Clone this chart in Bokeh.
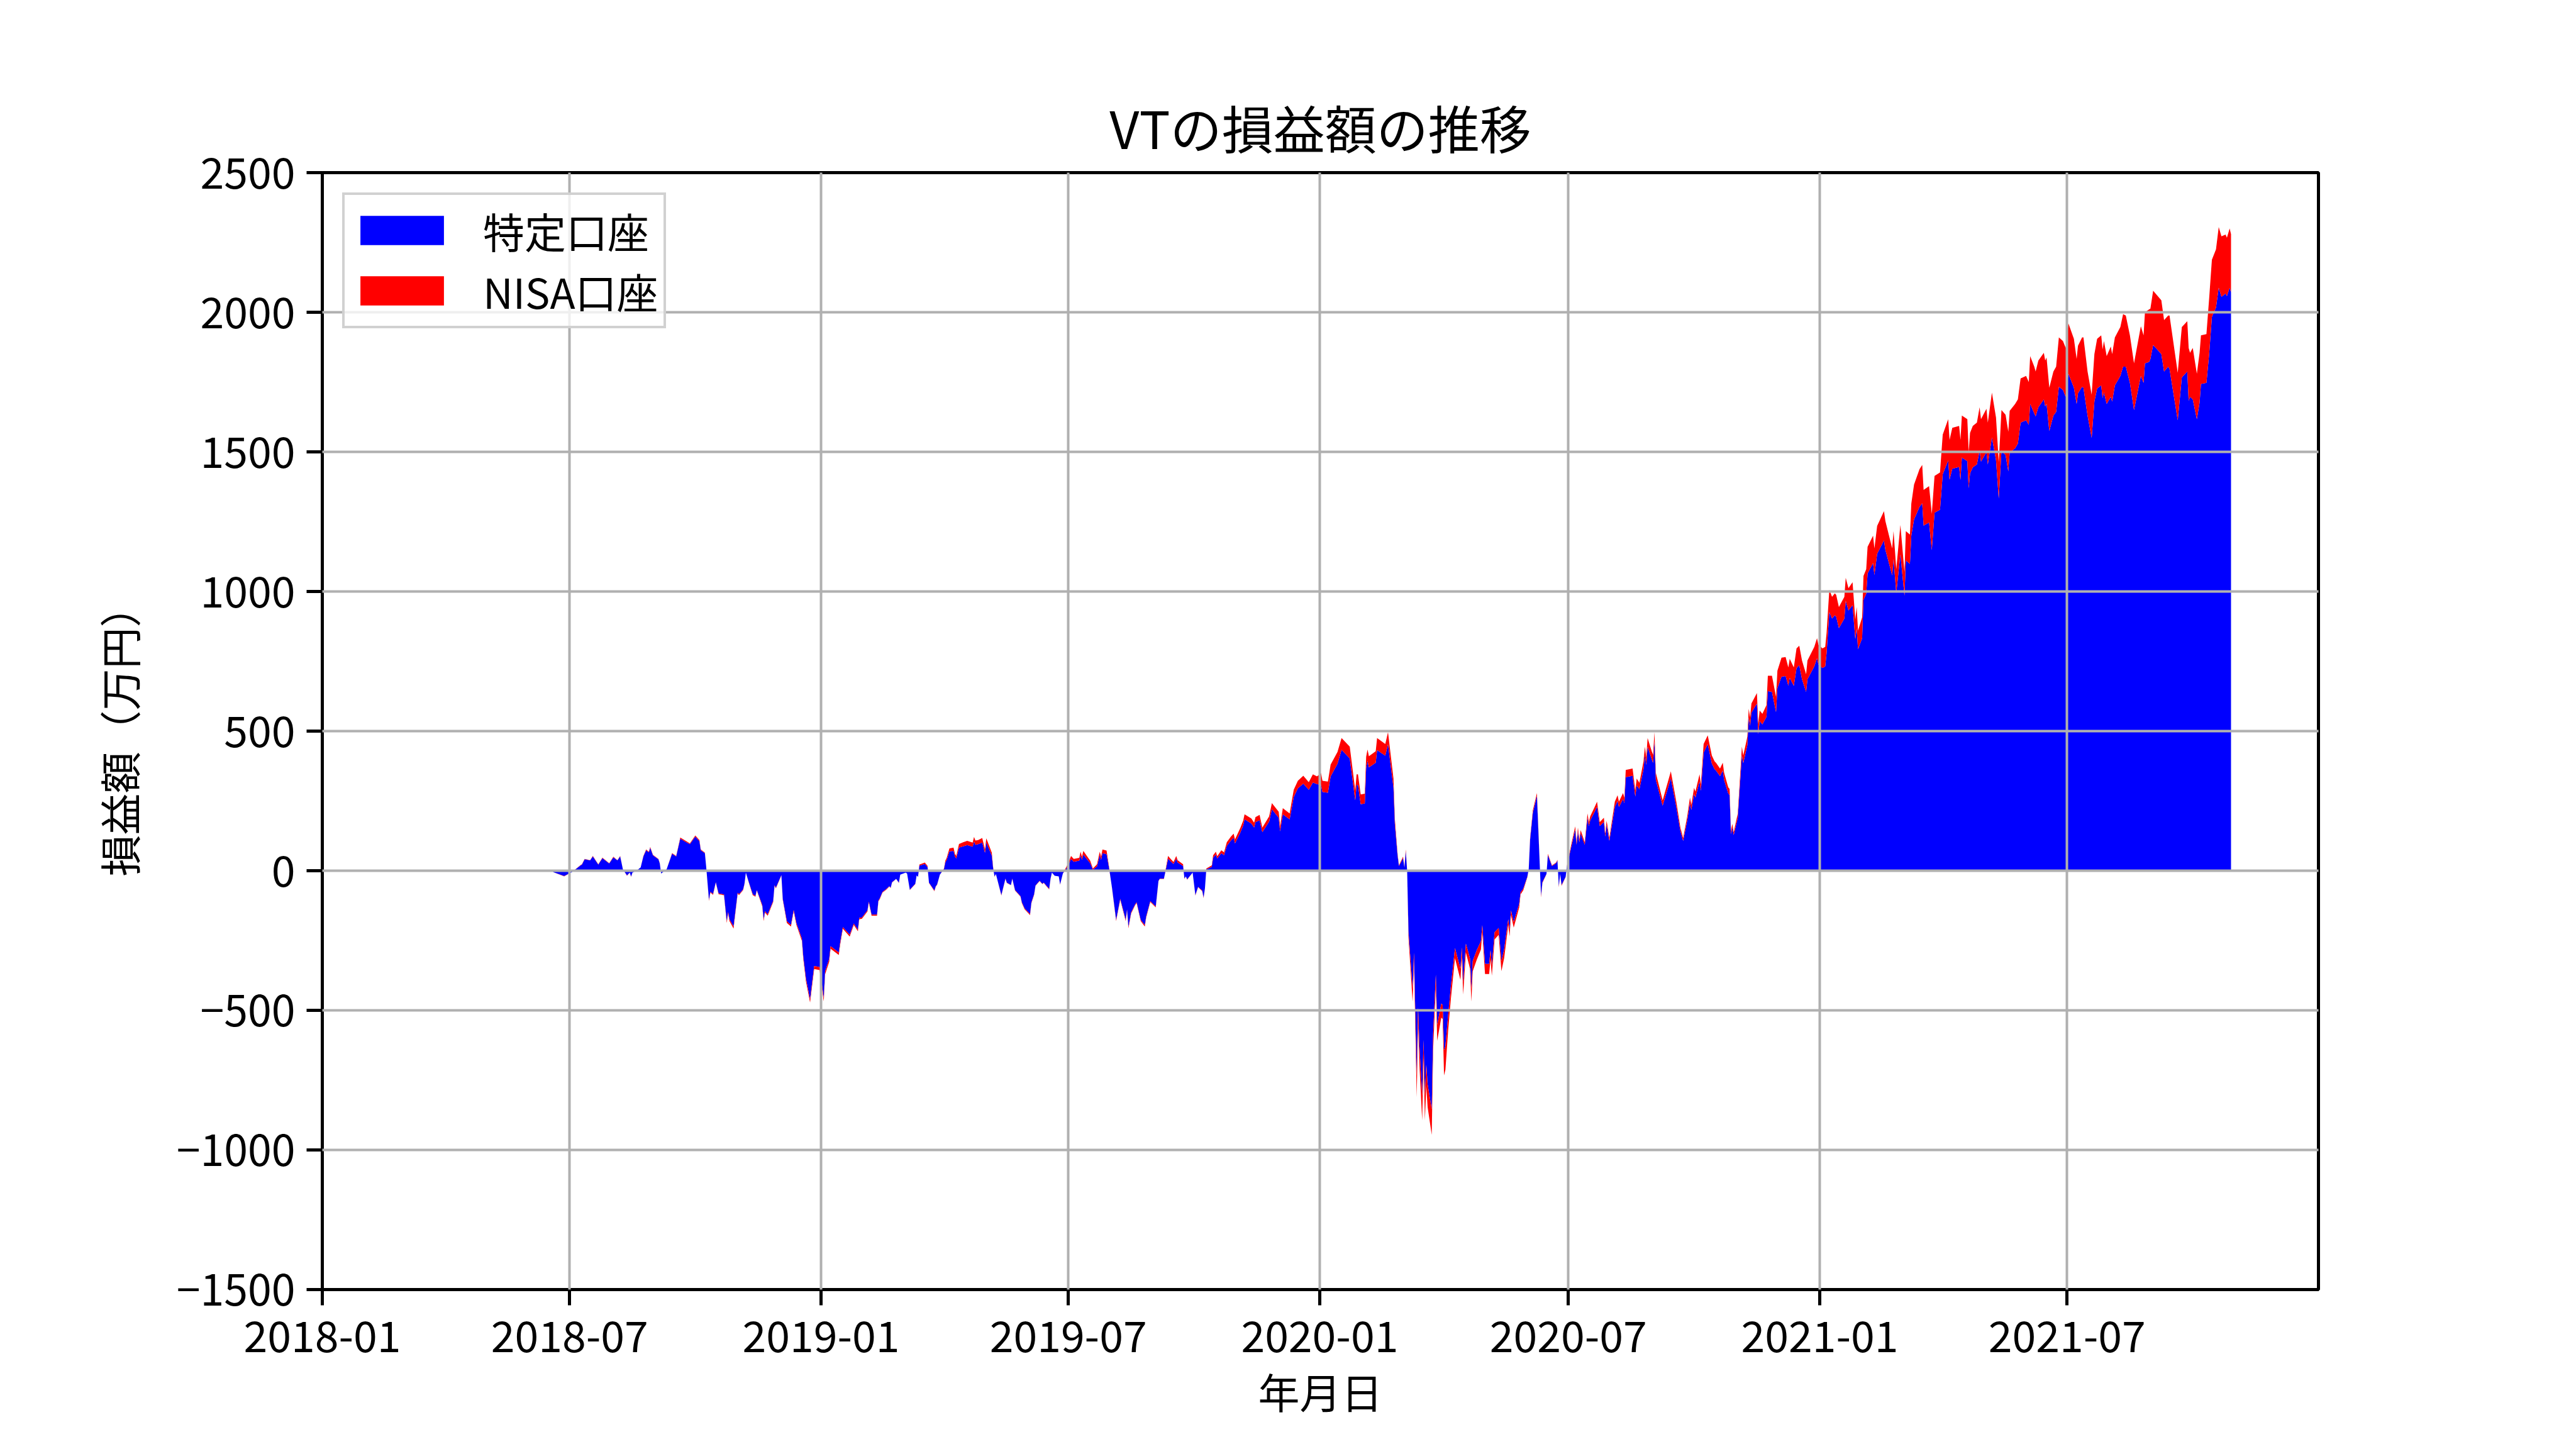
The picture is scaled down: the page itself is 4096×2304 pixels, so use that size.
import pandas as pd
from bokeh.plotting import figure
from bokeh.models import ColumnDataSource, FixedTicker, Range1d, DatetimeTickFormatter
from bokeh.embed import file_html
from bokeh.resources import INLINE

# ---------------- data (万円) ----------------
d18 = ["06-19","06-27","07-02","07-03","07-09","07-10","07-12","07-16","07-18","07-22","07-25","07-30","08-02","08-05","08-07","08-09","08-12","08-14","08-15","08-16","08-19","08-22","08-24","08-26","08-28","08-29","08-31","09-04","09-05","09-06","09-10","09-14","09-17","09-20","09-24","09-27","10-01","10-04","10-05","10-08","10-09","10-11","10-12","10-14","10-16","10-18","10-22","10-24","10-25","10-26","10-29","11-01","11-02","11-05","11-06","11-07","11-09","11-12","11-14","11-15","11-19","11-20","11-21","11-23","11-27","11-28","11-29","12-03","12-04","12-05","12-07","12-10","12-12","12-14","12-18","12-19","12-21","12-24","12-27","12-31"]
tok18 = [-5,-19,-7,-4,19,22,41,37,51,22,45,26,48,37,51,5,-17,-7,-21,-7,0,12,51,73,66,82,55,41,26,-10,5,61,51,115,103,95,122,106,73,63,12,-105,-76,-83,-41,-81,-85,-181,-148,-174,-200,-79,-84,-67,-46,-7,-39,-84,-90,-69,-123,-174,-145,-156,-108,-52,-61,-16,-101,-127,-181,-194,-141,-188,-243,-306,-387,-461,-341,-345]
nisa18 = [0,-1,0,0,1,1,1,1,2,1,2,1,2,1,2,0,-1,0,-1,0,0,0,2,3,2,3,2,1,1,0,0,2,2,4,4,3,4,4,3,2,0,-3,-2,-3,-1,-3,-3,-6,-5,-6,-7,-3,-3,-2,-2,0,-1,-3,-3,-2,-4,-6,-5,-5,-4,-2,-2,-1,-3,-4,-6,-6,-5,-6,-8,-9,-10,-11,-11,-11]

d19 = ["01-03","01-04","01-07","01-08","01-14","01-15","01-17","01-22","01-25","01-28","01-29","01-31","02-04","02-05","02-07","02-11","02-12","02-13","02-15","02-18","02-20","02-21","02-22","02-25","02-27","02-28","03-04","03-05","03-07","03-11","03-12","03-13","03-14","03-18","03-20","03-21","03-25","03-26","03-27","03-29","04-01","04-02","04-03","04-05","04-08","04-09","04-10","04-12","04-15","04-18","04-22","04-23","04-24","04-26","04-29","05-01","05-02","05-06","05-07","05-08","05-09","05-13","05-16","05-17","05-20","05-21","05-23","05-27","05-28","05-30","06-03","06-04","06-06","06-07","06-10","06-12","06-13","06-17","06-18","06-19","06-21","06-24","06-25","06-27","07-01","07-03","07-05","07-09","07-10","07-11","07-12","07-17","07-19","07-22","07-24","07-25","07-26","07-29","07-31","08-02","08-05","08-08","08-12","08-13","08-14","08-16","08-19","08-20","08-23","08-26","08-27","08-30","09-03","09-05","09-06","09-09","09-12","09-16","09-18","09-19","09-23","09-24","09-25","09-26","09-30","10-02","10-04","10-07","10-08","10-09","10-10","10-14","10-15","10-17","10-18","10-21","10-23","10-25","10-28","10-30","10-31","11-04","11-06","11-07","11-12","11-14","11-15","11-18","11-20","11-25","11-27","12-02","12-03","12-05","12-10","12-13","12-16","12-20","12-24","12-27","12-30"]
tok19 = [-456,-360,-316,-270,-293,-258,-202,-229,-189,-211,-169,-167,-142,-111,-157,-157,-107,-99,-76,-65,-56,-61,-41,-29,-43,-14,-7,-10,-68,-47,-17,-22,18,24,13,-43,-71,-56,-49,-14,6,30,39,69,71,51,44,83,87,92,86,105,93,95,101,64,101,54,8,-21,-12,-87,-28,-43,-51,-28,-69,-91,-113,-135,-155,-113,-84,-53,-36,-47,-43,-65,-28,-7,-18,-20,-49,-10,19,42,32,36,56,39,58,27,4,16,55,39,63,59,5,-62,-176,-101,-176,-139,-201,-149,-120,-113,-176,-195,-164,-109,-128,-36,-28,-28,43,24,43,30,17,-28,-20,-31,-7,-87,-58,-71,-96,-63,5,14,47,58,44,63,56,89,108,118,98,138,162,184,169,155,174,181,138,176,220,190,141,202,184,264,295,312,290,316,310]
nisa19 = [-12,-11,-10,-9,-9,-8,-6,-7,-5,-6,-5,-5,-4,-3,-4,-4,-3,-3,-2,-2,-1,-1,-1,0,-1,0,0,0,-1,-1,0,0,4,5,4,-1,-2,-1,-1,0,2,6,7,11,12,10,9,13,15,15,15,16,15,15,16,12,15,11,4,-1,0,-2,-1,-1,-1,-1,-2,-2,-3,-3,-4,-3,-2,-1,-1,-1,-1,-2,-1,0,0,0,-1,0,8,11,10,10,12,11,13,9,4,7,13,11,13,13,3,-1,-4,-3,-4,-3,-5,-4,-3,-3,-4,-5,-4,-3,-3,-1,-1,-1,10,7,10,8,6,-1,0,-1,0,-2,-1,-2,-2,-1,3,5,8,10,8,10,10,13,14,15,14,16,17,18,18,17,18,19,16,19,22,21,18,22,21,26,27,28,27,29,28]

d20 = ["01-02","01-03","01-07","01-09","01-14","01-17","01-23","01-27","01-28","01-29","01-31","02-03","02-04","02-05","02-06","02-11","02-12","02-18","02-20","02-24","02-25","02-27","02-28","03-02","03-03","03-04","03-05","03-06","03-09","03-10","03-12","03-13","03-14","03-16","03-17","03-18","03-19","03-20","03-23","03-24","03-26","03-27","03-30","03-31","04-01","04-02","04-04","04-06","04-09","04-13","04-14","04-15","04-17","04-20","04-21","04-22","04-25","04-28","04-29","05-01","05-04","05-05","05-06","05-08","05-11","05-13","05-15","05-18","05-19","05-20","05-22","05-26","05-27","05-29","06-01","06-02","06-03","06-05","06-08","06-09","06-11","06-12","06-15","06-16","06-19","06-22","06-23","06-24","06-25","06-26","06-29","06-30","07-03","07-06","07-07","07-08","07-09","07-10","07-13","07-15","07-16","07-17","07-20","07-22","07-24","07-27","07-28","07-29","07-31","08-04","08-06","08-07","08-10","08-11","08-12","08-17","08-19","08-20","08-22","08-25","08-26","08-27","08-28","08-31","09-01","09-02","09-03","09-08","09-14","09-18","09-21","09-23","09-26","09-28","09-29","10-01","10-02","10-05","10-06","10-08","10-11","10-14","10-16","10-17","10-20","10-22","10-23","10-26","10-27","10-28","10-29","10-30","11-02","11-05","11-06","11-09","11-10","11-11","11-12","11-16","11-17","11-18","11-20","11-23","11-24","11-27","11-30","12-01","12-04","12-07","12-09","12-10","12-13","12-15","12-17","12-19","12-22","12-23","12-28","12-30","12-31"]
tok20 = [307,282,279,338,383,433,402,252,307,307,238,241,368,393,370,387,432,412,453,297,167,54,17,45,12,69,0,-219,-424,-294,-733,-489,-629,-806,-606,-806,-695,-765,-854,-585,-372,-552,-476,-481,-643,-628,-518,-414,-277,-351,-275,-401,-261,-314,-424,-323,-284,-252,-195,-334,-334,-285,-339,-220,-205,-324,-281,-174,-212,-142,-184,-119,-77,-64,-21,7,111,208,268,147,-90,-41,-11,56,17,27,36,-56,-11,-51,-22,17,83,147,93,142,102,133,93,190,160,180,209,229,160,175,122,165,107,228,250,228,257,242,335,340,266,306,292,364,414,379,444,399,386,464,326,233,331,228,142,107,180,242,218,275,262,320,286,423,453,384,364,359,339,359,325,277,271,132,155,128,190,414,385,450,549,519,566,599,490,536,524,551,643,641,568,654,695,697,663,691,662,726,736,686,641,686,732,761,739]
nisa20 = [42,40,40,42,42,42,42,36,38,38,35,35,40,41,40,41,43,42,43,33,18,6,2,5,1,7,0,-22,-45,-30,-78,-52,-68,-88,-65,-88,-75,-82,-92,-60,-40,-57,-50,-50,-90,-85,-55,-45,-36,-40,-33,-42,-32,-36,-45,-37,-34,-30,-25,-36,-36,-33,-37,-26,-25,-36,-32,-20,-23,-16,-20,-13,-8,-6,-2,1,6,8,10,7,-5,-3,-1,4,2,2,3,-3,-1,-3,-1,2,8,12,9,12,10,12,9,15,14,15,17,18,14,15,11,14,10,19,20,19,21,20,26,26,22,24,23,28,30,28,31,29,29,32,25,19,25,19,12,10,15,20,18,22,21,25,23,31,32,29,28,28,27,28,26,22,22,11,13,10,15,30,28,30,31,30,33,37,35,38,38,42,55,57,55,62,68,68,65,68,66,70,70,67,63,67,70,72,70]

d21 = ["01-03","01-05","01-06","01-08","01-10","01-12","01-13","01-15","01-19","01-20","01-22","01-25","01-27","01-28","01-29","02-01","02-02","02-04","02-05","02-09","02-10","02-12","02-17","02-18","02-23","02-24","02-26","03-01","03-04","03-05","03-08","03-09","03-11","03-15","03-17","03-18","03-22","03-24","03-26","03-30","04-01","04-05","04-06","04-08","04-13","04-14","04-15","04-19","04-20","04-21","04-23","04-26","04-28","04-29","05-03","05-04","05-07","05-10","05-12","05-14","05-17","05-19","05-20","05-24","05-26","05-28","06-01","06-03","06-04","06-07","06-08","06-10","06-14","06-15","06-16","06-18","06-21","06-23","06-25","06-28","06-30","07-02","07-06","07-08","07-09","07-12","07-13","07-16","07-19","07-21","07-23","07-26","07-27","07-28","07-30","08-02","08-03","08-05","08-09","08-11","08-13","08-16","08-19","08-24","08-26","08-27","08-30","08-31","09-02","09-08","09-10","09-13","09-14","09-20","09-23","09-27","09-28","09-29","10-01","10-04","10-06","10-07","10-11","10-13","10-15","10-18","10-20","10-22","10-25","10-26","10-28","10-29"]
tok21 = [726,732,780,926,903,915,910,869,903,967,932,951,830,868,794,832,970,992,1065,1102,1059,1135,1183,1150,1058,1116,995,1133,985,1111,1099,1200,1258,1303,1316,1236,1247,1148,1282,1293,1420,1469,1401,1440,1446,1400,1480,1467,1370,1423,1445,1455,1505,1465,1499,1455,1552,1471,1333,1505,1488,1430,1497,1513,1530,1605,1613,1597,1672,1638,1627,1660,1688,1663,1672,1575,1630,1643,1733,1722,1697,1780,1730,1672,1710,1733,1730,1630,1550,1680,1727,1738,1693,1713,1672,1697,1680,1738,1772,1805,1805,1747,1650,1772,1747,1817,1822,1833,1883,1850,1788,1805,1797,1613,1767,1788,1683,1697,1688,1617,1677,1743,1747,1850,1983,2017,2088,2055,2067,2058,2088,2072]
nisa21 = [70,70,72,80,78,78,78,75,78,82,80,82,70,76,66,75,86,88,95,98,95,100,105,103,96,100,85,105,85,105,105,115,125,135,137,128,130,130,132,133,142,148,142,146,147,143,150,150,130,145,148,150,155,152,155,150,160,152,130,145,145,142,150,159,158,158,159,153,171,167,161,167,167,164,166,155,158,162,177,175,175,180,175,161,170,177,180,158,155,170,178,179,174,184,171,180,170,172,175,188,183,170,167,178,170,183,188,180,194,193,184,183,191,170,180,180,189,158,184,163,178,174,175,200,205,208,217,217,211,209,212,208]

series_names = ["特定口座", "NISA口座"]
series_colors = ["#0000ff", "#ff0000"]
x_tick_labels = ["2018-01", "2018-07", "2019-01", "2019-07", "2020-01", "2020-07", "2021-01", "2021-07"]
y_ticks = [-1500, -1000, -500, 0, 500, 1000, 1500, 2000, 2500]
x_limits = ["2018-01-01", "2022-01-01"]
y_limits = [-1500, 2500]

# ---------------- build table ----------------
years = [("2018", d18, tok18, nisa18), ("2019", d19, tok19, nisa19),
         ("2020", d20, tok20, nisa20), ("2021", d21, tok21, nisa21)]
dates, tok, nisa = [], [], []
for y, dd, tt, nn in years:
    assert len(dd) == len(tt) == len(nn), (y, len(dd), len(tt), len(nn))
    dates += [f"{y}-{d}" for d in dd]
    tok += tt
    nisa += nn

df = pd.DataFrame({"date": pd.to_datetime(dates), "tokutei": tok, "nisa": nisa})
source = ColumnDataSource(df)

FONT = "Noto Sans CJK JP"

p = figure(
    width=4080, height=2288,
    x_axis_type="datetime",
    x_range=Range1d(pd.Timestamp(x_limits[0]).to_pydatetime(), pd.Timestamp(x_limits[1]).to_pydatetime()),
    y_range=Range1d(y_limits[0], y_limits[1]),
    output_backend="svg", toolbar_location=None,
    title="VTの損益額の推移",
    min_border_left=512, min_border_right=394, min_border_top=274, min_border_bottom=238,
)
p.background_fill_color = "white"
p.border_fill_color = "white"

p.varea_stack(["tokutei", "nisa"], x="date", source=source,
              color=series_colors, legend_label=series_names)

# title
p.title.text_font = FONT
p.title.text_font_size = "82px"
p.title.text_font_style = "normal"
p.title.text_color = "black"
p.title.align = "center"
p.title.standoff = 27

# axes
p.xaxis.ticker = FixedTicker(ticks=[pd.Timestamp(s + "-01").value // 10**6 for s in x_tick_labels])
p.xaxis.formatter = DatetimeTickFormatter(days="%Y-%m", months="%Y-%m", years="%Y-%m")
p.yaxis.ticker = FixedTicker(ticks=y_ticks)
p.yaxis.major_label_overrides = {t: (("\u2212" + str(abs(t))) if t < 0 else str(t)) for t in y_ticks}
p.xaxis.axis_label = "年月日"
p.yaxis.axis_label = "損益額（万円）"
for ax in (p.xaxis, p.yaxis):
    ax.major_label_text_font = FONT
    ax.major_label_text_font_size = "68px"
    ax.major_label_text_color = "black"
    ax.axis_label_text_font = FONT
    ax.axis_label_text_font_size = "66px"
    ax.axis_label_text_font_style = "normal"
    ax.axis_label_text_color = "black"
    ax.major_tick_out = 25
    ax.major_tick_in = 0
    ax.major_tick_line_width = 5
    ax.major_tick_line_color = "black"
    ax.minor_tick_out = 0
    ax.minor_tick_in = 0
    ax.axis_line_width = 5
    ax.axis_line_color = "black"
p.xaxis.major_label_standoff = 24
p.yaxis.major_label_standoff = 18
p.xaxis.axis_label_standoff = 10
p.yaxis.axis_label_standoff = 42

p.outline_line_color = "black"
p.outline_line_width = 5
p.outline_line_alpha = 1.0

# grid drawn above the filled areas (as in the reference)
for g in (p.xgrid, p.ygrid):
    g.grid_line_color = "#b0b0b0"
    g.grid_line_width = 4
    g.level = "guide"

# legend
lg = p.legend[0]
lg.location = "top_left"
lg.margin = 32
lg.padding = 8
lg.glyph_width = 166
lg.glyph_height = 58
lg.label_standoff = 46
lg.spacing = 0
lg.label_text_font = FONT
lg.label_text_font_size = "66px"
lg.label_text_color = "black"
lg.border_line_color = "#cccccc"
lg.border_line_width = 4
lg.border_line_alpha = 0.9
lg.background_fill_color = "white"
lg.background_fill_alpha = 0.8

open("out.html", "w").write(file_html(p, INLINE))
